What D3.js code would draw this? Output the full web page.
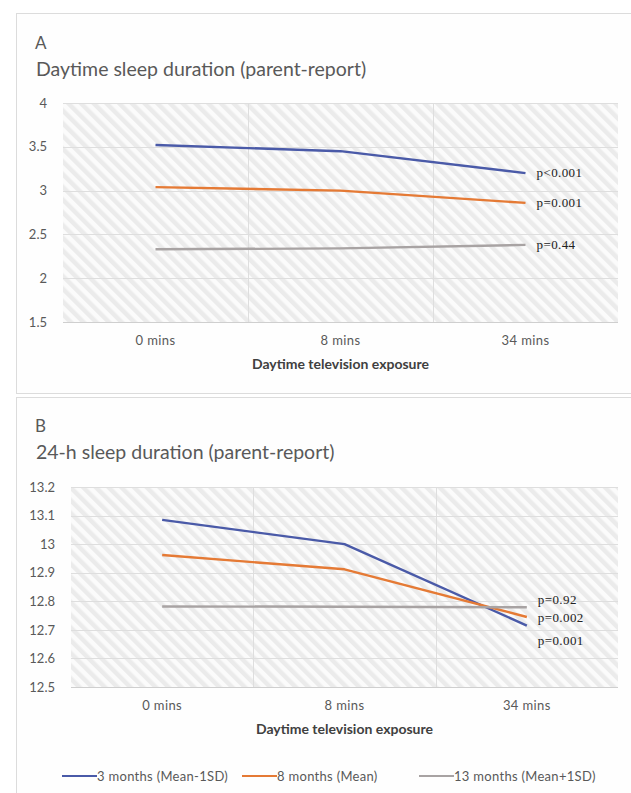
<!DOCTYPE html>
<html>
<head>
<meta charset="utf-8">
<script src="https://cdn.jsdelivr.net/npm/d3@7"></script>
<style>
  html, body { margin: 0; padding: 0; background: #ffffff; }
  svg { display: block; font-family: Lato, "Open Sans", sans-serif; }
</style>
</head>
<body>
<svg id="chart" width="631" height="793"></svg>
<script>
// ---------- data ----------
const categories = ["0 mins", "8 mins", "34 mins"];
const seriesNames = ["3 months (Mean-1SD)", "8 months (Mean)", "13 months (Mean+1SD)"];
const seriesColors = ["#4a5aa8", "#e57a35", "#a8a3a3"];

// Panel A: Daytime sleep duration (hours)
const daytime3m = [3.52, 3.45, 3.20];
const daytime8m = [3.04, 3.00, 2.86];
const daytime13m = [2.33, 2.34, 2.38];
const daytimeP = ["p<0.001", "p=0.001", "p=0.44"];
const daytimeTicks = [1.5, 2, 2.5, 3, 3.5, 4];

// Panel B: 24-h sleep duration (hours)
const total3m = [13.085, 13.00, 12.715];
const total8m = [12.962, 12.912, 12.745];
const total13m = [12.782, 12.781, 12.779];
const totalP = ["p=0.001", "p=0.002", "p=0.92"];
const totalTicks = [12.5, 12.6, 12.7, 12.8, 12.9, 13.0, 13.1, 13.2];

const panelLetters = ["A", "B"];
const panelTitles = ["Daytime sleep duration (parent-report)", "24-h sleep duration (parent-report)"];
const xAxisTitle = "Daytime television exposure";

// ---------- drawing ----------
const svg = d3.select("#chart");
const textColor = "#595959";

const defs = svg.append("defs");
const pat = defs.append("pattern")
  .attr("id", "hatch")
  .attr("patternUnits", "userSpaceOnUse")
  .attr("width", 9).attr("height", 9)
  .attr("patternTransform", "rotate(-45)");
pat.append("rect").attr("width", 9).attr("height", 9).attr("fill", "#fbfbfb");
pat.append("rect").attr("width", 4.5).attr("height", 9).attr("fill", "#ebebeb");

// frames
svg.append("rect").attr("x", 16.5).attr("y", 13.5).attr("width", 640).attr("height", 380)
  .attr("fill", "#fefefe").attr("stroke", "#dcdcdc");
svg.append("rect").attr("x", 16.5).attr("y", 397.5).attr("width", 640).attr("height", 420)
  .attr("fill", "#fefefe").attr("stroke", "#dcdcdc");

function drawPanel(cfg) {
  const g = svg.append("g");
  const x = d3.scaleBand().domain(categories).range([cfg.left, cfg.right]).padding(0);
  const y = d3.scaleLinear().domain(cfg.domain).range([cfg.bottom, cfg.top]);

  g.append("text").attr("x", 35).attr("y", cfg.letterY).attr("fill", textColor)
    .attr("font-size", 17).text(cfg.letter);
  g.append("text").attr("x", 36).attr("y", cfg.titleY).attr("fill", textColor)
    .attr("font-size", 19.5).text(cfg.title);

  // plot area hatch
  g.append("rect").attr("x", cfg.left).attr("y", cfg.top)
    .attr("width", cfg.right - cfg.left).attr("height", cfg.bottom - cfg.top)
    .attr("fill", "url(#hatch)");

  // horizontal gridlines
  g.append("g").selectAll("line").data(cfg.ticks).join("line")
    .attr("x1", cfg.left).attr("x2", cfg.right)
    .attr("y1", d => Math.round(y(d)) + 0.5).attr("y2", d => Math.round(y(d)) + 0.5)
    .attr("stroke", d => d === cfg.domain[0] ? "#cfcfcf" : "#dedede").attr("stroke-width", 1);

  // vertical category separators
  g.append("g").selectAll("line").data(categories.slice(1)).join("line")
    .attr("x1", d => Math.round(x(d)) + 0.5).attr("x2", d => Math.round(x(d)) + 0.5)
    .attr("y1", cfg.top).attr("y2", cfg.bottom)
    .attr("stroke", "#dedede");

  // y axis labels via d3 axis
  const yAxis = d3.axisLeft(y).tickValues(cfg.ticks).tickSize(0).tickPadding(0)
    .tickFormat(d3.format(""));
  const ya = g.append("g").attr("transform", `translate(${cfg.left - cfg.yLabelGap},0)`).call(yAxis);
  ya.select(".domain").remove();
  ya.selectAll("text").attr("fill", textColor).attr("font-size", 13)
    .attr("font-family", "Lato, sans-serif");

  // x axis labels
  const xAxis = d3.axisBottom(x).tickSize(0).tickPadding(0);
  const xa = g.append("g").attr("transform", `translate(0,${cfg.bottom + 14})`).call(xAxis);
  xa.select(".domain").remove();
  xa.selectAll("text").attr("fill", textColor).attr("font-size", 13)
    .attr("letter-spacing", 0.4)
    .attr("font-family", "Lato, sans-serif");

  g.append("text").attr("x", (cfg.left + cfg.right) / 2).attr("y", cfg.bottom + 47)
    .attr("text-anchor", "middle").attr("fill", "#404040").attr("font-size", 14)
    .attr("font-weight", "bold").text(xAxisTitle);

  const line = d3.line().x((d, i) => x(categories[i]) + x.bandwidth() / 2).y(d => y(d));
  cfg.series.forEach((s, i) => {
    g.append("path").datum(s).attr("d", line).attr("fill", "none")
      .attr("stroke", seriesColors[i]).attr("stroke-width", 2.4)
      .attr("stroke-linejoin", "round");
  });
  cfg.series.forEach((s, i) => {
    g.append("text")
      .attr("x", x(categories[2]) + x.bandwidth() / 2 + 11)
      .attr("y", y(s[2]) + 4 + cfg.pNudge[i])
      .attr("font-family", "Liberation Serif, serif").attr("font-size", 13)
      .attr("letter-spacing", 0.4)
      .attr("fill", "#222").text(cfg.pLabels[i]);
  });
}

drawPanel({
  letter: panelLetters[0], title: panelTitles[0], letterY: 49, titleY: 76,
  left: 63, right: 618, top: 103, bottom: 322, domain: [1.5, 4], yLabelGap: 16,
  ticks: daytimeTicks, series: [daytime3m, daytime8m, daytime13m],
  pLabels: daytimeP, pNudge: [0, 0, 0]
});

drawPanel({
  letter: panelLetters[1], title: panelTitles[1], letterY: 432, titleY: 459,
  left: 71, right: 618, top: 487, bottom: 687, domain: [12.5, 13.2], yLabelGap: 16,
  ticks: totalTicks, series: [total3m, total8m, total13m],
  pLabels: totalP, pNudge: [15, 1, -7]
});

// legend
const legendX = [62, 242, 419];
const lg = svg.append("g").attr("transform", "translate(0,776)");
seriesNames.forEach((n, i) => {
  lg.append("line").attr("x1", legendX[i]).attr("x2", legendX[i] + 35)
    .attr("y1", 0).attr("y2", 0).attr("stroke", seriesColors[i]).attr("stroke-width", 2.2);
  lg.append("text").attr("x", legendX[i] + 35).attr("y", 4.5).attr("fill", textColor)
    .attr("font-size", 13).attr("letter-spacing", 0.3).text(n);
});
</script>
</body>
</html>
